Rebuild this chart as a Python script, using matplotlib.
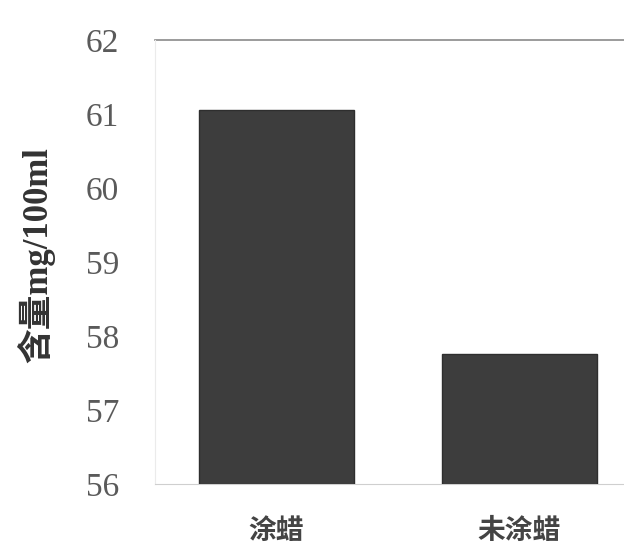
import matplotlib
matplotlib.use("Agg")
import matplotlib.pyplot as plt

categories = ["涂蜡", "未涂蜡"]
values = [61.05, 57.75]
yticks = [56, 57, 58, 59, 60, 61, 62]

plt.rcParams['font.family'] = ['Liberation Serif', 'Noto Sans CJK SC', 'DejaVu Sans']

fig = plt.figure(figsize=(6.24, 5.49), dpi=100)
ax = fig.add_axes([155/624, 65/549, 486/624, 444/549])

x = list(range(len(categories)))
ax.bar(x, values, width=0.64, color="#3d3d3d", edgecolor="#2e2e2e", linewidth=1.0,
       zorder=3)
ax.set_xlim(-0.5, 1.5)
ax.set_ylim(56, 62)
ax.set_yticks(yticks)
ax.set_yticklabels([str(t) for t in yticks], fontsize=24, color="#5a5a5a",
                   family=['Liberation Serif'])
ax.tick_params(axis='y', length=0, pad=26)
ax.set_xticks(x)
ax.set_xticklabels(categories, fontsize=20, color="#444444", fontweight='bold',
                   family=['Noto Sans CJK SC'])
ax.tick_params(axis='x', length=0, pad=24)

ax.axhline(62, color="#8a8a8a", linewidth=1.2, zorder=2, clip_on=False)
for s in ['top', 'right']:
    ax.spines[s].set_visible(False)
ax.spines['bottom'].set_color("#cfcfcf")
ax.spines['left'].set_color("#ebebeb")

ax.set_ylabel("含量mg/100ml", fontsize=25, fontweight='bold', color="#333333",
              family=['Liberation Serif', 'Noto Sans CJK SC'])
ax.yaxis.set_label_coords(-100/486, 0.516)

fig.savefig("out.png", dpi=100)
